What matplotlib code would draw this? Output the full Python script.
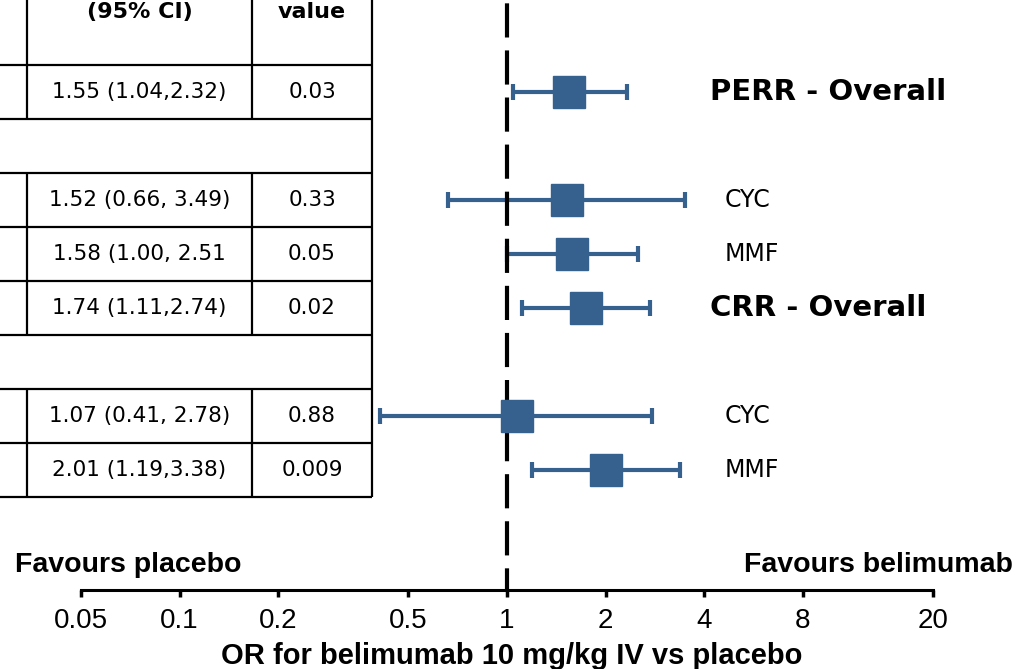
import numpy as np
import matplotlib
matplotlib.use("Agg")
import matplotlib.pyplot as plt
from matplotlib.transforms import blended_transform_factory

# table rows (subgroup header rows are blank: their text lies left of the crop)
row_labels = ["PERR - Overall", "", "CYC", "MMF", "CRR - Overall", "", "CYC", "MMF"]
or_ci_text = ["1.55 (1.04,2.32)", "", "1.52 (0.66, 3.49)", "1.58 (1.00, 2.51",
              "1.74 (1.11,2.74)", "", "1.07 (0.41, 2.78)", "2.01 (1.19,3.38)"]
p_text = ["0.03", "", "0.33", "0.05", "0.02", "", "0.88", "0.009"]
estimate = [1.55, np.nan, 1.52, 1.58, 1.74, np.nan, 1.07, 2.01]
ci_low = [1.04, np.nan, 0.66, 1.00, 1.11, np.nan, 0.41, 1.19]
ci_high = [2.32, np.nan, 3.49, 2.51, 2.74, np.nan, 2.78, 3.38]

tick_values = [0.05, 0.1, 0.2, 0.5, 1, 2, 4, 8, 20]
tick_labels = ["0.05", "0.1", "0.2", "0.5", "1", "2", "4", "8", "20"]

BLUE = "#36618f"
W, H = 1023, 669
AX_BOTTOM_PX = 590          # where the OR axis line sits
ROW0_PX, ROW_PX = 92, 54    # first row centre and row pitch in pixels

fig = plt.figure(figsize=(W / 100, H / 100), dpi=100)
ax = fig.add_axes([0, (H - AX_BOTTOM_PX) / H, 1, AX_BOTTOM_PX / H])

ax.set_xscale("log")
px_per_dec = (933 - 81) / np.log10(20 / 0.05)
ax.set_xlim(0.05 / 10 ** (81 / px_per_dec), 20 * 10 ** ((W - 933) / px_per_dec))
y_top = -ROW0_PX / ROW_PX
y_bot = (AX_BOTTOM_PX - ROW0_PX) / ROW_PX
ax.set_ylim(y_bot, y_top)

rows = np.arange(len(row_labels))
est = np.array(estimate)
lo = np.array(ci_low)
hi = np.array(ci_high)
ok = ~np.isnan(est)

ax.errorbar(est[ok], rows[ok], xerr=[est[ok] - lo[ok], hi[ok] - est[ok]], fmt="none",
            ecolor=BLUE, elinewidth=3, capsize=6, capthick=3, zorder=1)
ax.axvline(1, color="black", lw=3, linestyle=(3, (8.2, 3.1)), zorder=2)
ax.plot(est[ok], rows[ok], "s", color=BLUE, ms=23.5, mec=BLUE, zorder=3)

# right-hand labels
lab_tr = blended_transform_factory(ax.transAxes, ax.transData)
for r, lab in zip(rows, row_labels):
    if not lab:
        continue
    if "Overall" in lab:
        ax.text(710 / W, r, lab, transform=lab_tr, fontsize=21, fontweight="bold",
                va="center", ha="left", family="DejaVu Sans")
    else:
        ax.text(725 / W, r, lab, transform=lab_tr, fontsize=17,
                va="center", ha="left", family="DejaVu Sans")

# axis styling
for s in ("top", "left", "right"):
    ax.spines[s].set_visible(False)
ax.spines["bottom"].set_bounds(0.05, 20)
ax.spines["bottom"].set_linewidth(2.2)
ax.set_yticks([])
ax.minorticks_off()
ax.set_xticks(tick_values, tick_labels)
ax.tick_params(axis="x", length=5, width=2.5, pad=8, labelsize=20)
for t in ax.get_xticklabels():
    t.set_family("Liberation Sans")
ax.set_xlabel("OR for belimumab 10 mg/kg IV vs placebo", fontsize=21,
              fontweight="bold", family="Liberation Sans", labelpad=6)

fig.text(15 / W, 1 - 565 / H, "Favours placebo", fontsize=20.5, fontweight="bold",
         family="Liberation Sans", ha="left", va="center")
fig.text(1013 / W, 1 - 565 / H, "Favours belimumab", fontsize=20.5, fontweight="bold",
         family="Liberation Sans", ha="right", va="center")

# table on the left, x in pixels
tab = ax.twiny()
tab.set_xlim(0, W)
tab.axis("off")
col_l, col_m, col_r = 27, 252, 372
lw_t = 1.6
for k in range(-1, len(row_labels)):
    y0 = y_top if k == -1 else k - 0.5
    y1 = k + 0.5
    if k == -1 or row_labels[k]:
        tab.vlines([col_l, col_m], y0, y1, color="black", lw=lw_t)
    tab.hlines(y1, 0, col_r, color="black", lw=lw_t)
tab.vlines(col_r, y_top, len(row_labels) - 0.5, color="black", lw=lw_t)

hdr_y = (12 - ROW0_PX) / ROW_PX
tab.text((col_l + col_m) / 2, hdr_y, "(95% CI)", ha="center", va="center",
         fontsize=16, fontweight="bold", family="DejaVu Sans")
tab.text((col_m + col_r) / 2, hdr_y, "value", ha="center", va="center",
         fontsize=16, fontweight="bold", family="DejaVu Sans")
for r, ci, p in zip(rows, or_ci_text, p_text):
    if ci:
        tab.text((col_l + col_m) / 2, r, ci, ha="center", va="center",
                 fontsize=15.5, family="DejaVu Sans")
        tab.text((col_m + col_r) / 2, r, p, ha="center", va="center",
                 fontsize=15.5, family="DejaVu Sans")

fig.savefig("out.png", dpi=100)
